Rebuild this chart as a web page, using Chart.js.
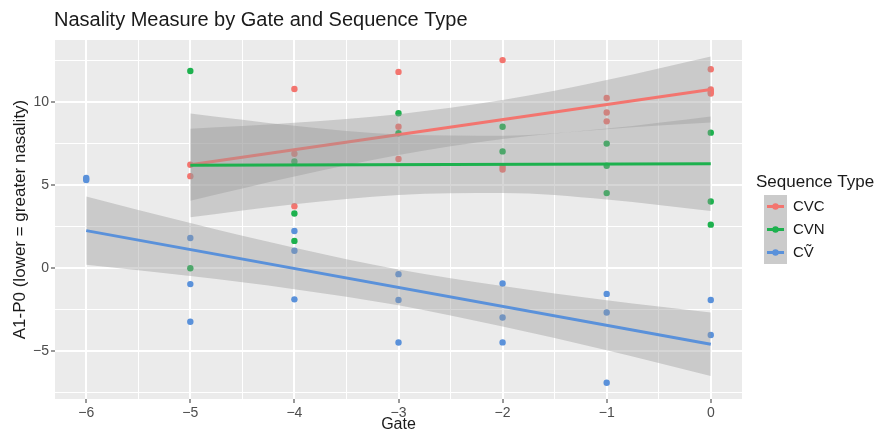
<!DOCTYPE html>
<html><head><meta charset="utf-8">
<script src="https://cdn.jsdelivr.net/npm/chart.js@4"></script>
<style>html,body{margin:0;padding:0;background:#fff}</style>
</head><body>
<canvas id="c" width="887" height="433"></canvas>
<script>
// ---- data ----
const seriesNames = ['CVC', 'CVN', 'C\u1E7C'];
const gateTicks = [-6, -5, -4, -3, -2, -1, 0];
const valueTicks = [-5, 0, 5, 10];

const cvcGate  = [-5, -5, -4, -4, -4, -3, -3, -3, -2, -2, -2, -1, -1, -1, 0, 0, 0, 0];
const cvcValue = [6.22, 5.53, 10.78, 6.88, 3.72, 11.81, 8.51, 6.56, 12.52, 6.10, 5.93, 10.24, 9.36, 8.83, 11.97, 10.75, 10.62, 10.51];
const cvnGate  = [-5, -5, -4, -4, -4, -3, -3, -2, -2, -1, -1, -1, 0, 0, 0];
const cvnValue = [11.86, -0.02, 6.42, 3.28, 1.63, 9.32, 8.11, 8.51, 7.02, 7.49, 6.16, 4.51, 8.15, 4.00, 2.61];
const cvvGate  = [-6, -6, -5, -5, -5, -4, -4, -4, -3, -3, -3, -2, -2, -2, -1, -1, -1, 0, 0];
const cvvValue = [5.30, 5.42, 1.81, -0.97, -3.24, 2.23, 1.04, -1.89, -0.37, -1.93, -4.49, -0.93, -2.98, -4.48, -1.56, -2.68, -6.91, -1.93, -4.04];

// fitted lines (ends) and confidence bands
const cvcFitGate = [-5, 0];
const cvcFit     = [6.22, 10.75];
const cvnFitGate = [-5, 0];
const cvnFit     = [6.18, 6.28];
const cvvFitGate = [-6, 0];
const cvvFit     = [2.25, -4.59];

const bandGate5 = [-5, -4, -3, -2, -1, 0];
const cvcLow  = [4.05, 5.51, 6.80, 7.77, 8.36, 8.76];
const cvcHigh = [8.39, 8.75, 9.26, 10.11, 11.32, 12.74];
const cvnLow  = [3.06, 3.84, 4.40, 4.51, 4.12, 3.43];
const cvnHigh = [9.30, 8.56, 8.04, 7.97, 8.40, 9.13];
const bandGate6 = [-6, -5, -4, -3, -2, -1, 0];
const cvvLow  = [0.19, -0.49, -1.28, -2.25, -3.53, -4.95, -6.50];
const cvvHigh = [4.31, 2.71, 1.22, -0.09, -1.09, -1.95, -2.68];

// ---- styling ----
const colors = ['#F3756F', '#1DB14E', '#5A91DA'];
const ribbon = 'rgba(153,153,153,0.4)';
const FONT = '"Liberation Sans", Arial, "DejaVu Sans", sans-serif';

const pts = (xs, ys) => xs.map((x, i) => ({x: x, y: ys[i]}));
const fmt = v => (v < 0 ? '\u2212' + Math.abs(v) : String(v));

function scatterDs(name, xs, ys, col) {
  return {type: 'scatter', label: name, data: pts(xs, ys), backgroundColor: col,
    pointRadius: 3.2, pointBorderWidth: 0, pointHoverRadius: 3.2, order: 20};
}
function bandDs(xs, lo, hi, order) {
  const base = {type: 'line', data: null, borderWidth: 0, borderColor: 'rgba(0,0,0,0)',
    pointRadius: 0, cubicInterpolationMode: 'monotone', order: order};
  return [
    Object.assign({}, base, {label: 'lo', data: pts(xs, lo), fill: false}),
    Object.assign({}, base, {label: 'hi', data: pts(xs, hi), fill: '-1', backgroundColor: ribbon})
  ];
}
function fitDs(xs, ys, col, order) {
  return {type: 'line', label: 'fit', data: pts(xs, ys), borderColor: col, borderWidth: 3,
    pointRadius: 0, fill: false, order: order};
}

const datasets = [
  scatterDs(seriesNames[0], cvcGate, cvcValue, colors[0]),
  scatterDs(seriesNames[1], cvnGate, cvnValue, colors[1]),
  scatterDs(seriesNames[2], cvvGate, cvvValue, colors[2]),
  ...bandDs(bandGate5, cvcLow, cvcHigh, 7),
  fitDs(cvcFitGate, cvcFit, colors[0], 6),
  ...bandDs(bandGate5, cvnLow, cvnHigh, 5),
  fitDs(cvnFitGate, cvnFit, colors[1], 4),
  ...bandDs(bandGate6, cvvLow, cvvHigh, 3),
  fitDs(cvvFitGate, cvvFit, colors[2], 2)
];

const isMajorX = v => Math.abs(v - Math.round(v)) < 1e-6;
const isMajorY = v => Math.abs(v / 5 - Math.round(v / 5)) < 1e-6;

const bgPlugin = {
  id: 'bg',
  beforeDraw(chart) {
    const {ctx, chartArea: a} = chart;
    ctx.save();
    ctx.fillStyle = '#ffffff';
    ctx.fillRect(0, 0, chart.width, chart.height);
    ctx.fillStyle = '#EBEBEB';
    ctx.fillRect(a.left, a.top, a.right - a.left, a.bottom - a.top);
    ctx.restore();
  },
  afterDraw(chart) {
    const ctx = chart.ctx;
    ctx.save();
    // title
    ctx.fillStyle = '#1a1a1a';
    ctx.font = '20px ' + FONT;
    ctx.textBaseline = 'middle';
    ctx.textAlign = 'left';
    ctx.fillText('Nasality Measure by Gate and Sequence Type', 54, 20);
    // legend
    ctx.font = '17px ' + FONT;
    ctx.fillText('Sequence Type', 756, 182);
    for (let i = 0; i < 3; i++) {
      const y0 = 195 + 23 * i;
      const cy = y0 + 11.5;
      ctx.fillStyle = '#CBCBCB';
      ctx.fillRect(764, y0, 23, 23);
      ctx.strokeStyle = colors[i];
      ctx.lineWidth = 3;
      ctx.beginPath(); ctx.moveTo(767, cy); ctx.lineTo(784, cy); ctx.stroke();
      ctx.fillStyle = colors[i];
      ctx.beginPath(); ctx.arc(775.5, cy, 3.2, 0, Math.PI * 2); ctx.fill();
      ctx.fillStyle = '#1a1a1a';
      ctx.font = '15px ' + FONT;
      ctx.fillText(seriesNames[i], 793, cy);
    }
    ctx.restore();
  }
};

new Chart(document.getElementById('c'), {
  type: 'scatter',
  data: {datasets: datasets},
  plugins: [bgPlugin],
  options: {
    responsive: false,
    animation: false,
    devicePixelRatio: 1,
    layout: {padding: {top: 40, right: 145, left: 0, bottom: 0}},
    plugins: {legend: {display: false}, tooltip: {enabled: false}, title: {display: false}},
    scales: {
      x: {
        type: 'linear', min: -6.3, max: 0.3,
        afterFit(s) { s.height = 34; },
        afterBuildTicks(s) {
          const t = [];
          for (let v = -6; v <= 0.01; v += 0.5) t.push({value: Math.round(v * 2) / 2});
          s.ticks = t;
        },
        grid: {
          color: '#ffffff',
          lineWidth: c => (c.tick && isMajorX(c.tick.value) ? 2 : 1),
          tickColor: c => (c.tick && isMajorX(c.tick.value) ? '#333333' : 'rgba(0,0,0,0)'),
          tickLength: 4, tickWidth: 1, drawTicks: true
        },
        border: {display: false},
        ticks: {
          autoSkip: false, maxRotation: 0, padding: 2, color: '#4D4D4D',
          font: {size: 14, family: FONT},
          callback: v => (isMajorX(v) ? fmt(Math.round(v)) : '')
        },
        title: {display: true, text: 'Gate', color: '#1a1a1a', padding: {top: 0, bottom: 0},
          font: {size: 16, family: FONT, lineHeight: 1}}
      },
      y: {
        type: 'linear', min: -7.89, max: 13.73,
        afterFit(s) { s.width = 55; },
        afterBuildTicks(s) {
          const t = [];
          for (let v = -7.5; v <= 12.5; v += 2.5) t.push({value: v});
          s.ticks = t;
        },
        grid: {
          color: '#ffffff',
          lineWidth: c => (c.tick && isMajorY(c.tick.value) ? 2 : 1),
          tickColor: c => (c.tick && isMajorY(c.tick.value) ? '#333333' : 'rgba(0,0,0,0)'),
          tickLength: 4, tickWidth: 1, drawTicks: true
        },
        border: {display: false},
        ticks: {
          autoSkip: false, padding: 2, color: '#4D4D4D',
          font: {size: 14, family: FONT},
          callback: v => (isMajorY(v) ? fmt(v) : '')
        },
        title: {display: true, text: 'A1-P0 (lower = greater nasality)', color: '#1a1a1a',
          padding: {top: 12, bottom: 0}, font: {size: 17, family: FONT, lineHeight: 1}}
      }
    }
  }
});
</script></body></html>
